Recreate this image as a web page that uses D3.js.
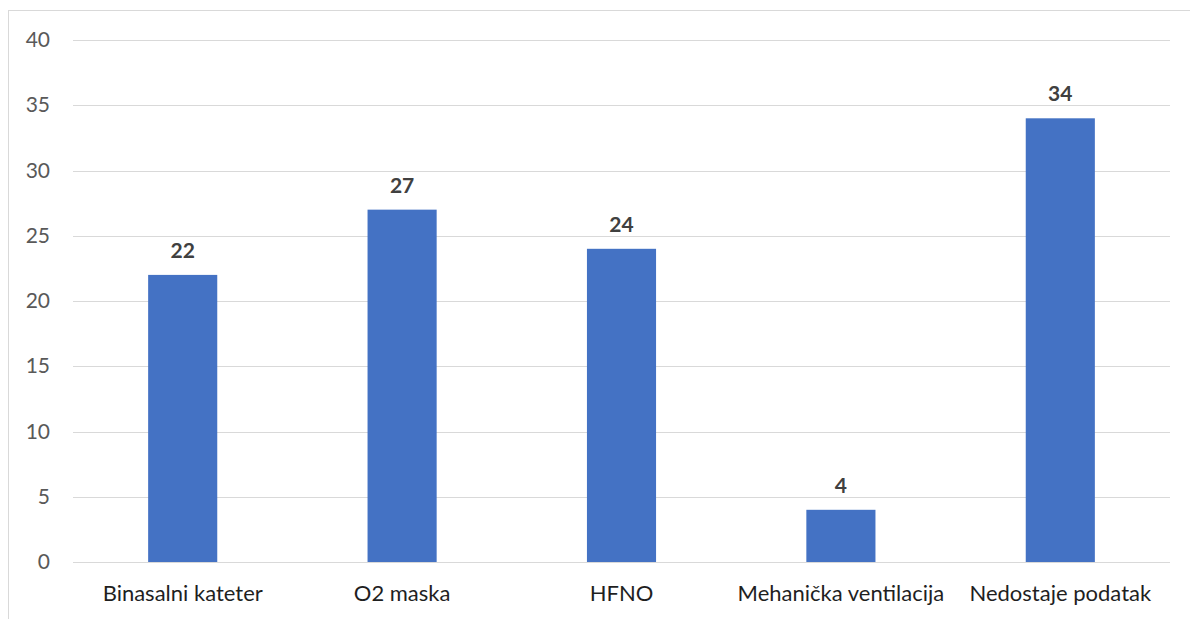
<!DOCTYPE html>
<html>
<head>
<meta charset="utf-8">
<script src="https://cdn.jsdelivr.net/npm/d3@7"></script>
<style>
  body { margin: 0; background: #fff; }
  svg { display: block; font-family: Lato, "Noto Sans", sans-serif; }
</style>
</head>
<body>
<div id="chart"></div>
<script>
// chart data
const categories = ['Binasalni kateter', 'O2 maska', 'HFNO', 'Mehanička ventilacija', 'Nedostaje podatak'];
const values = [22, 27, 24, 4, 34];
const yTicks = [0, 5, 10, 15, 20, 25, 30, 35, 40];

const W = 1190, H = 619;
const margin = {top: 40, right: 20, bottom: 57, left: 73};

const svg = d3.select('#chart').append('svg')
    .attr('width', W)
    .attr('height', H);

// outer chart border (only left and top are visible in the frame)
svg.append('rect')
    .attr('x', 8.5).attr('y', 10.5)
    .attr('width', W).attr('height', H)
    .attr('fill', 'none')
    .attr('stroke', '#d9d9d9');

const x = d3.scaleBand()
    .domain(categories)
    .range([margin.left, W - margin.right])
    .paddingInner(0.685)
    .paddingOuter(0.3425);

const y = d3.scaleLinear()
    .domain([0, 40])
    .range([H - margin.bottom, margin.top]);

// gridlines
svg.append('g')
    .selectAll('line')
    .data(yTicks)
    .join('line')
    .attr('x1', margin.left)
    .attr('x2', W - margin.right)
    .attr('y1', d => Math.round(y(d)) + 0.5)
    .attr('y2', d => Math.round(y(d)) + 0.5)
    .attr('stroke', '#d9d9d9')
    .attr('stroke-width', 1);

// y axis labels
const yAxis = svg.append('g')
    .attr('transform', `translate(${margin.left - 23},0)`)
    .call(d3.axisLeft(y).tickValues(yTicks).tickSize(0).tickPadding(0));
yAxis.select('.domain').remove();
yAxis.selectAll('text')
    .attr('font-family', 'Lato, "Noto Sans", sans-serif')
    .attr('font-size', 21)
    .attr('fill', '#595959');

// bars
svg.append('g')
    .selectAll('rect')
    .data(values)
    .join('rect')
    .attr('x', (d, i) => x(categories[i]))
    .attr('y', d => y(d))
    .attr('width', x.bandwidth())
    .attr('height', d => y(0) - y(d))
    .attr('fill', '#4472c4');

// value labels
svg.append('g')
    .selectAll('text')
    .data(values)
    .join('text')
    .attr('x', (d, i) => x(categories[i]) + x.bandwidth() / 2)
    .attr('y', d => y(d) - 17)
    .attr('text-anchor', 'middle')
    .attr('font-size', 21)
    .attr('font-weight', 'bold')
    .attr('fill', '#404040')
    .text(d => d);

// x axis labels
const xAxis = svg.append('g')
    .attr('transform', `translate(0,${y(0)})`)
    .call(d3.axisBottom(x).tickSize(0).tickPadding(0));
xAxis.select('.domain').remove();
xAxis.selectAll('text')
    .attr('dy', 39)
    .attr('font-family', 'Lato, "Noto Sans", sans-serif')
    .attr('font-size', 22)
    .attr('fill', '#1f1f1f');
</script>
</body>
</html>
